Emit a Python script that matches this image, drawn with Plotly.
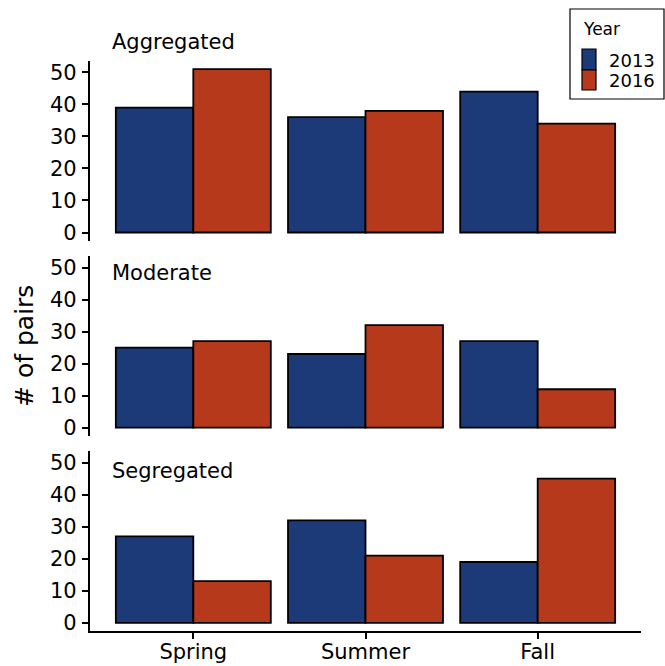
import plotly.graph_objects as go
from plotly.subplots import make_subplots

# Data: number of pairs per season, year and spatial pattern
seasons = ["Spring", "Summer", "Fall"]
years = ["2013", "2016"]
panels = ["Aggregated", "Moderate", "Segregated"]

aggregated_2013 = [39, 36, 44]
aggregated_2016 = [51, 38, 34]
moderate_2013 = [25, 23, 27]
moderate_2016 = [27, 32, 12]
segregated_2013 = [27, 32, 19]
segregated_2016 = [13, 21, 45]

y_ticks = [0, 10, 20, 30, 40, 50]

series = {
    "Aggregated": (aggregated_2013, aggregated_2016),
    "Moderate": (moderate_2013, moderate_2016),
    "Segregated": (segregated_2013, segregated_2016),
}

colors = {"2013": "#1C3A78", "2016": "#B6391B"}
FONT = "DejaVu Sans"

W, H = 665, 666
ML, MR, MT, MB = 90, 24, 61, 35
PW = W - ML - MR
PH = H - MT - MB


def px_x(px):
    return (px - ML) / PW


def px_y(py):
    return (H - MB - py) / PH


gap = 15.5 / PH

fig = make_subplots(rows=3, cols=1, shared_xaxes=True, vertical_spacing=gap)

ymax = max(max(v) for pair in series.values() for v in pair)
pad = ymax * 0.05

for i, name in enumerate(panels):
    v13, v16 = series[name]
    for yr, vals in zip(years, (v13, v16)):
        fig.add_trace(
            go.Bar(
                x=seasons,
                y=vals,
                name=yr,
                marker=dict(color=colors[yr], line=dict(color="black", width=1.8)),
                showlegend=False,
            ),
            row=i + 1,
            col=1,
        )
    fig.update_yaxes(
        range=[-pad, ymax + pad],
        tickvals=y_ticks,
        ticks="outside",
        ticklen=6,
        tickwidth=1.5,
        tickcolor="black",
        showline=True,
        linewidth=2.2,
        linecolor="black",
        showgrid=False,
        zeroline=False,
        automargin=False,
        tickfont=dict(family=FONT, size=21, color="black"),
        ticklabelstandoff=1,
        row=i + 1,
        col=1,
    )

for r in (1, 2):
    fig.update_xaxes(visible=False, range=[-0.6, 2.6], automargin=False, row=r, col=1)
fig.update_xaxes(
    range=[-0.6, 2.6],
    showline=True,
    linewidth=2.2,
    linecolor="black",
    ticks="outside",
    ticklen=6,
    tickwidth=1.5,
    tickcolor="black",
    showgrid=False,
    zeroline=False,
    automargin=False,
    tickfont=dict(family=FONT, size=21, color="black"),
    ticklabelstandoff=-5,
    row=3,
    col=1,
)

# Panel labels
label_y = {"Aggregated": 42, "Moderate": 273, "Segregated": 471}
for name in panels:
    fig.add_annotation(
        x=px_x(110), y=px_y(label_y[name]), xref="paper", yref="paper",
        text=name, showarrow=False, xanchor="left", yanchor="middle",
        font=dict(family=FONT, size=21, color="black"),
    )

# Shared y-axis title
fig.add_annotation(
    x=px_x(24), y=px_y(346), xref="paper", yref="paper",
    text="# of pairs", textangle=-90, showarrow=False,
    xanchor="center", yanchor="middle",
    font=dict(family=FONT, size=25, color="black"),
)

# Legend box
fig.add_shape(type="rect", xref="paper", yref="paper",
              x0=px_x(570), x1=px_x(664), y0=px_y(99), y1=px_y(9),
              line=dict(color="black", width=1.2), fillcolor="white")
fig.add_annotation(x=px_x(581), y=px_y(29), xref="paper", yref="paper",
                   text="Year", showarrow=False, xanchor="left", yanchor="middle",
                   font=dict(family=FONT, size=17, color="black"))
key_rows = [(49, 70, 60), (70, 90, 80)]
for yr, (top, bot, mid) in zip(years, key_rows):
    fig.add_shape(type="rect", xref="paper", yref="paper",
                  x0=px_x(582), x1=px_x(596), y0=px_y(bot), y1=px_y(top),
                  line=dict(color="black", width=1.2), fillcolor=colors[yr])
    fig.add_annotation(x=px_x(607), y=px_y(mid), xref="paper", yref="paper",
                       text=yr, showarrow=False, xanchor="left", yanchor="middle",
                       font=dict(family=FONT, size=18, color="black"))

fig.update_layout(
    template="none",
    width=W,
    height=H,
    margin=dict(l=ML, r=MR, t=MT, b=MB),
    barmode="group",
    bargap=0.1,
    bargroupgap=0,
    plot_bgcolor="white",
    paper_bgcolor="white",
    showlegend=False,
    font=dict(family=FONT, color="black"),
)

fig.write_html("out.html")
